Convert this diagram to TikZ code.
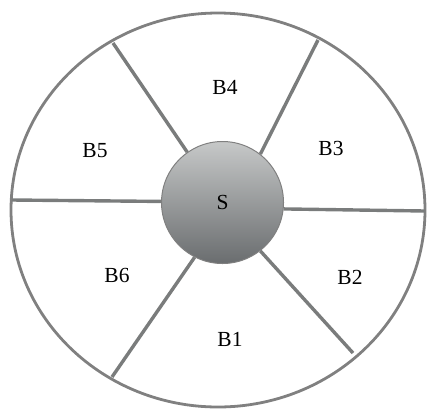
\documentclass[tikz,border=0pt]{standalone}
\usepackage{fontspec}
\setmainfont{Liberation Serif}
\usepackage{tikz}
\usetikzlibrary{calc}
\definecolor{rimgray}{RGB}{128,128,128}
\definecolor{spokegray}{RGB}{122,124,124}
\definecolor{hubtop}{RGB}{198,200,200}
\definecolor{hubbottom}{RGB}{106,109,111}
\tikzset{spoke/.style={spokegray, line width=3.4pt},
  cell/.style={font=\fontsize{21.5}{25}\selectfont, inner sep=0}}

\begin{document}
\begin{tikzpicture}[x=1pt,y=-1pt]
\useasboundingbox (0,0) rectangle (427,408);
\draw[rimgray, line width=2.8pt] (218,210) ellipse [x radius=207, y radius=197];
\node[circle, minimum size=122pt, inner sep=0, draw=rimgray, line width=1pt,
  top color=hubtop, bottom color=hubbottom, cell] (S) at (222.5,202.5) {S};
% outer ends of the spokes and where they meet the hub
\foreach \i/\x/\y/\a in {1/353/353/-52, 2/425/211/-6, 3/318/40/52, 4/113/43/125, 5/12/200/179, 6/112/377/-117} {
  \coordinate (o\i) at (\x,\y);
  \draw[spoke] (o\i) -- (S.\a);
}
\foreach \name/\x/\y in {B1/230/339, B2/350/277, B3/331/148, B4/225/87, B5/95/151, B6/117/275}
  \node[cell] (\name) at (\x,\y) {\name};
\end{tikzpicture}
\end{document}
